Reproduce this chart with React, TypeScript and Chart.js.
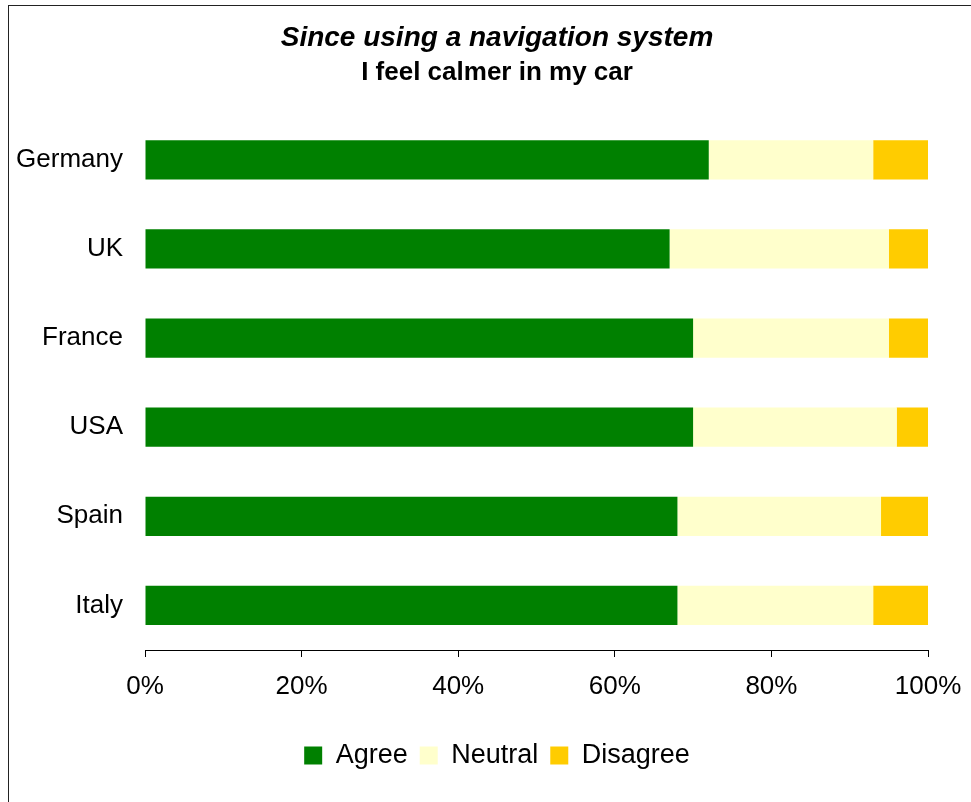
import React, { useEffect, useRef } from "react";
import { Chart, registerables } from "chart.js";

Chart.register(...registerables);

const countries = ["Germany", "UK", "France", "USA", "Spain", "Italy"];
const agree = [72, 67, 70, 70, 68, 68];
const neutral = [21, 28, 25, 26, 26, 25];
const disagree = [7, 5, 5, 4, 6, 7];
const titleLine1 = "Since using a navigation system";
const titleLine2 = "I feel calmer in my car";
const xTicks = [0, 20, 40, 60, 80, 100];

const FONT = "'Liberation Sans', Arial, sans-serif";
const PAD_LEFT = 66;

export default function App() {
  const ref = useRef<HTMLCanvasElement | null>(null);

  useEffect(() => {
    if (!ref.current) return;
    const chart = new Chart(ref.current, {
      type: "bar",
      data: {
        labels: countries,
        datasets: [
          { label: "Agree", data: agree, backgroundColor: "#008000" },
          { label: "Neutral", data: neutral, backgroundColor: "#FFFFCC" },
          { label: "Disagree", data: disagree, backgroundColor: "#FFCC00" },
        ],
      },
      options: {
        indexAxis: "y",
        animation: false,
        responsive: false,
        devicePixelRatio: 1,
        layout: { padding: { left: PAD_LEFT, right: 43, top: 0, bottom: 23 } },
        datasets: { bar: { categoryPercentage: 1, barPercentage: 0.44, borderWidth: 0 } },
        scales: {
          x: {
            stacked: true,
            min: 0,
            max: 100,
            afterBuildTicks: (scale: any) => {
              scale.ticks = xTicks.map((v) => ({ value: v }));
            },
            afterFit: (scale: any) => {
              scale.height = 80;
              scale.paddingLeft = 0;
              scale.paddingRight = 0;
            },
            grid: { drawOnChartArea: false, drawTicks: true, tickLength: 7, color: "#000" },
            border: { display: true, color: "#000", width: 1 },
            ticks: {
              color: "#000",
              padding: 14,
              maxRotation: 0,
              font: { family: FONT, size: 26 },
              callback: (v: any) => v + "%",
            },
          },
          y: {
            stacked: true,
            afterFit: (scale: any) => {
              scale.width = 145 - PAD_LEFT;
              scale._computeLabelArea = () => undefined;
            },
            grid: { display: false },
            border: { display: false },
            ticks: { color: "#000", padding: 14, font: { family: FONT, size: 26 } },
          },
        },
        plugins: {
          title: {
            display: true,
            text: titleLine1,
            color: "#000",
            font: { family: FONT, size: 28, weight: "bold", style: "italic" },
            padding: { top: 21, bottom: 0 },
          },
          subtitle: {
            display: true,
            text: titleLine2,
            color: "#000",
            font: { family: FONT, size: 26, weight: "bold" },
            padding: { top: 3, bottom: 26.5 },
          },
          legend: {
            position: "bottom",
            labels: {
              color: "#000",
              boxWidth: 18,
              boxHeight: 18,
              padding: 12,
              font: { family: FONT, size: 27 },
            },
          },
          tooltip: { enabled: false },
        },
      },
    });
    return () => chart.destroy();
  }, []);

  return (
    <div style={{ position: "fixed", left: 0, top: 0, width: 971, height: 802, background: "#fff", overflow: "hidden" }}>
      <div
        style={{
          position: "absolute",
          left: 8,
          top: 5,
          width: 1000,
          height: 1000,
          borderLeft: "1px solid #222",
          borderTop: "1px solid #222",
        }}
      />
      <canvas ref={ref} width={971} height={802} style={{ position: "absolute", left: 0, top: 0, width: 971, height: 802 }} />
    </div>
  );
}
